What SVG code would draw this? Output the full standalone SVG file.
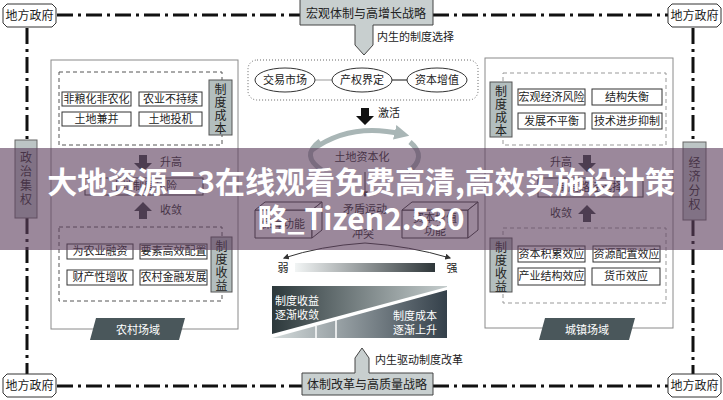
<svg xmlns="http://www.w3.org/2000/svg" width="723" height="400" viewBox="0 0 723 400">
<defs>
<style>
.t{font-family:"Noto Sans CJK SC","Noto Sans",sans-serif;font-size:11px;fill:#222;text-anchor:middle}
.s{font-size:12px}
.w{fill:#fff}
.box{fill:#fff;stroke:#333;stroke-width:1}
.lab{fill:#b3bebe;stroke:#555;stroke-width:1}
.dash{fill:none;stroke:#555;stroke-width:1;stroke-dasharray:4 3}
.dash2{fill:none;stroke:#999;stroke-width:1;stroke-dasharray:4 3}
.panel{fill:#fff;stroke:#8a8a8a;stroke-width:1}
.dd{fill:none;stroke:#111;stroke-width:3;stroke-dasharray:16 5 3 5}
.gov{fill:#fff;stroke:#333;stroke-width:1}
.cyc{fill:none;stroke:#a9b6b6;stroke-width:5}
.thin{fill:none;stroke:#333;stroke-width:1}
.dark{fill:#333b3e}
</style>
<linearGradient id="gbar" x1="0" x2="1" y1="0" y2="0"><stop offset="0" stop-color="#f2f5f5"/><stop offset="1" stop-color="#2e3639"/></linearGradient>
<linearGradient id="gup" x1="0" x2="1" y1="0" y2="0"><stop offset="0" stop-color="#2c383b"/><stop offset="1" stop-color="#c5cdcd"/></linearGradient>
<linearGradient id="gdn" x1="0" x2="1" y1="0" y2="0"><stop offset="0" stop-color="#d5dcdc"/><stop offset="1" stop-color="#34404a"/></linearGradient>
<marker id="ah" viewBox="0 0 10 10" refX="8" refY="5" markerWidth="6" markerHeight="6" orient="auto"><path d="M0,0 L10,5 L0,10 z" fill="#333"/></marker>
<marker id="ahg" viewBox="0 0 10 10" refX="5" refY="5" markerWidth="3" markerHeight="3" orient="auto"><path d="M0,0 L10,5 L0,10 z" fill="#a9b6b6"/></marker>
</defs>
<rect width="723" height="400" fill="#fff"/>

<g id="connectors">
<line class="dd" x1="57" y1="15" x2="300" y2="15"/>
<line class="dd" x1="433" y1="15" x2="668" y2="15"/>
<line class="dd" x1="57" y1="386" x2="302" y2="386"/>
<line class="dd" x1="433" y1="386" x2="668" y2="386"/>
<line class="dd" x1="27" y1="28" x2="27" y2="140"/>
<line class="dd" x1="27" y1="218" x2="27" y2="374"/>
<line class="dd" x1="693" y1="28" x2="693" y2="142"/>
<line class="dd" x1="693" y1="220" x2="693" y2="374"/>
<line x1="315" y1="80" x2="332" y2="80" stroke="#999" stroke-width="1"/>
<line x1="392" y1="80" x2="407" y2="80" stroke="#111" stroke-width="1"/>
<path class="cyc" d="M312,150 Q350,122 402,134" marker-end="url(#ahg)"/>
<path class="cyc" d="M320,141 Q300,156 322,170"/>
<path class="cyc" d="M410,142 Q428,157 408,172"/>
<line x1="365" y1="172" x2="365" y2="196" stroke="#333" stroke-width="1" marker-end="url(#ah)"/>
<path class="thin" d="M365,243 Q320,246 284,258" marker-end="url(#ah)"/>
<path class="thin" d="M365,243 Q410,246 450,258" marker-end="url(#ah)"/>
</g>

<g id="gov-tl"><path class="gov" d="M7,4 H52 L56,8 V23 L52,27 H7 L3,23 V8 Z"/><text class="t s" x="29.5" y="20">地方政府</text></g>
<g id="gov-tr"><path class="gov" d="M672,4 H717 L721,8 V23 L717,27 H672 L668,23 V8 Z"/><text class="t s" x="694.5" y="20">地方政府</text></g>
<g id="gov-bl"><path class="gov" d="M7,374 H52 L56,378 V393 L52,397 H7 L3,393 V378 Z"/><text class="t s" x="29.5" y="390">地方政府</text></g>
<g id="gov-br"><path class="gov" d="M672,374 H717 L721,378 V393 L717,397 H672 L668,393 V378 Z"/><text class="t s" x="694.5" y="390">地方政府</text></g>

<g id="top-strategy">
<path d="M300,-1 H433 V25 H373 V45 L364,55 L355,45 V25 H300 Z" fill="#c8cfcf" stroke="#444" stroke-width="1"/>
<text class="t s" x="366" y="18">宏观体制与高增长战略</text>
<text class="t" x="377" y="41" style="text-anchor:start">内生的制度选择</text>
</g>

<g id="bottom-strategy">
<path d="M302,395 V373 H355 V358 L362,348 L369,358 V373 H433 V395 Z" fill="#c8cfcf" stroke="#444" stroke-width="1"/>
<text class="t s" x="367" y="389">体制改革与高质量战略</text>
<text class="t" x="375" y="364" style="text-anchor:start">内生驱动制度改革</text>
</g>

<g id="politics"><rect x="15" y="140" width="22" height="78" fill="#bcc5c5" stroke="#666"/>
<text class="t s" x="26" y="162">政</text><text class="t s" x="26" y="176">治</text><text class="t s" x="26" y="190">集</text><text class="t s" x="26" y="204">权</text></g>
<g id="economy"><rect x="683" y="142" width="23" height="78" fill="#bcc5c5" stroke="#666"/>
<text class="t s" x="694.5" y="167">经</text><text class="t s" x="694.5" y="181">济</text><text class="t s" x="694.5" y="195">分</text><text class="t s" x="694.5" y="209">权</text></g>

<g id="rural">
<rect class="panel" x="51" y="60" width="187" height="269"/>
<rect class="dash" x="59" y="72" width="163" height="73"/>
<rect class="box" x="62" y="92" width="69" height="14"/><text class="t" x="96.5" y="103">非粮化非农化</text>
<rect class="box" x="139" y="92" width="63" height="14"/><text class="t" x="170.5" y="103">农业不持续</text>
<rect class="box" x="62" y="112" width="69" height="14"/><text class="t" x="96.5" y="123">土地兼并</text>
<rect class="box" x="139" y="112" width="63" height="14"/><text class="t" x="170.5" y="123">土地投机</text>
<rect class="lab" x="209" y="80" width="23" height="55"/>
<text class="t s" x="220.5" y="94">制</text><text class="t s" x="220.5" y="107">度</text><text class="t s" x="220.5" y="120">成</text><text class="t s" x="220.5" y="133">本</text>
<path class="dark" d="M139,155 H147 V163 H152 L143,172 L134,163 H139 Z"/>
<text class="t" x="160" y="166" style="text-anchor:start">升高</text>
<rect class="box" x="85" y="178" width="118" height="17"/><text class="t" x="144" y="190">土地制度风险</text>
<path class="dark" d="M143,202 L152,211 H147 V219 H139 V211 H134 Z"/>
<text class="t" x="160" y="214" style="text-anchor:start">收敛</text>
<rect class="dash" x="59" y="227" width="163" height="74"/>
<rect class="box" x="67" y="244" width="66" height="15"/><text class="t" x="100" y="255">为农业融资</text>
<rect class="box" x="140" y="244" width="67" height="15"/><text class="t" x="173.5" y="255">要素高效配置</text>
<rect class="box" x="67" y="270" width="66" height="15"/><text class="t" x="100" y="281">财产性增收</text>
<rect class="box" x="140" y="270" width="67" height="15"/><text class="t" x="173.5" y="281">农村金融发展</text>
<rect class="lab" x="211" y="237" width="21" height="55"/>
<text class="t s" x="221.5" y="251">制</text><text class="t s" x="221.5" y="264">度</text><text class="t s" x="221.5" y="277">收</text><text class="t s" x="221.5" y="290">益</text>
<path d="M96,318 H185 L179,340 H90 Z" fill="#4a575b"/>
<text class="t w" x="138" y="334">农村场域</text>
</g>

<g id="urban">
<rect class="panel" x="485" y="58" width="188" height="270"/>
<rect class="dash2" x="503" y="73" width="163" height="72"/>
<rect class="box" x="518" y="89" width="67" height="16"/><text class="t" x="551.5" y="101">宏观经济风险</text>
<rect class="box" x="592" y="89" width="70" height="16"/><text class="t" x="627" y="101">结构失衡</text>
<rect class="box" x="518" y="113" width="67" height="16"/><text class="t" x="551.5" y="125">发展不平衡</text>
<rect class="box" x="592" y="113" width="70" height="16"/><text class="t" x="627" y="125">技术进步抑制</text>
<rect class="lab" x="490" y="82" width="22" height="55"/>
<text class="t s" x="501" y="96">制</text><text class="t s" x="501" y="109">度</text><text class="t s" x="501" y="122">成</text><text class="t s" x="501" y="135">本</text>
<path class="dark" d="M583,155 H591 V163 H596 L587,172 L578,163 H583 Z"/>
<text class="t" x="550" y="166" style="text-anchor:start">升高</text>
<rect class="box" x="538" y="178" width="105" height="19"/><text class="t" x="590" y="191">制度路径选择</text>
<path class="dark" d="M587,205 L596,214 H591 V222 H583 V214 H578 Z"/>
<text class="t" x="550" y="217" style="text-anchor:start">收敛</text>
<rect class="dash2" x="503" y="228" width="163" height="75"/>
<rect class="box" x="518" y="246" width="67" height="16"/><text class="t" x="551.5" y="258">资本积累效应</text>
<rect class="box" x="593" y="246" width="67" height="16"/><text class="t" x="626.5" y="258">资源配置效应</text>
<rect class="box" x="518" y="268" width="67" height="17"/><text class="t" x="551.5" y="280">产业结构效应</text>
<rect class="box" x="592" y="268" width="68" height="17"/><text class="t" x="626" y="280">货币效应</text>
<rect class="lab" x="490" y="238" width="22" height="54"/>
<text class="t s" x="501" y="252">制</text><text class="t s" x="501" y="265">度</text><text class="t s" x="501" y="278">收</text><text class="t s" x="501" y="291">益</text>
<path d="M545,318 H635 L629,340 H539 Z" fill="#4a575b"/>
<text class="t w" x="587" y="334">城镇场域</text>
</g>

<g id="choice">
<rect x="248" y="60" width="230" height="40" rx="9" fill="none" stroke="#666" stroke-width="1" stroke-dasharray="1 2"/>
<ellipse cx="285" cy="80" rx="30" ry="12" class="box"/><text class="t" x="285" y="84">交易市场</text>
<ellipse cx="362" cy="80" rx="30" ry="12" class="box"/><text class="t" x="362" y="84">产权界定</text>
<ellipse cx="437" cy="80" rx="30" ry="12" class="box"/><text class="t" x="437" y="84">资本增值</text>
</g>

<g id="activate">
<path d="M361,108 H369 V116 H374 L365,125 L356,116 H361 Z" fill="#111"/>
<text class="t" x="378" y="117" style="text-anchor:start">激活</text>
</g>

<g id="capitalization"><text class="t" x="362" y="161">土地资本化</text></g>
<g id="contradiction"><text class="t" x="365" y="213">矛盾运动</text><text class="t" x="363" y="238">冲突</text></g>

<g id="box-left">
<path class="box" d="M255,210 H312 V238 H255 Z"/>
<path class="box" d="M255,210 L265,202 H322 L312,210 Z"/>
<path class="box" d="M312,210 L322,202 V230 L312,238 Z"/>
<text class="t" x="283" y="228">保障功能</text>
</g>
<g id="box-right">
<path class="box" d="M402,210 H468 V238 H402 Z"/>
<path class="box" d="M402,210 L412,202 H478 L468,210 Z"/>
<path class="box" d="M468,210 L478,202 V230 L468,238 Z"/>
<text class="t" x="435" y="222">资本增值</text><text class="t" x="435" y="235">功能</text>
</g>

<g id="scale">
<text class="t" x="283" y="272">弱</text>
<rect x="295" y="263" width="140" height="9" fill="url(#gbar)"/>
<text class="t" x="452" y="272">强</text>
</g>

<g id="tradeoff">
<polygon points="272,286 447,286 447,287 272,334" fill="url(#gup)"/>
<polygon points="272,338 447,290 447,338" fill="url(#gdn)"/>
<line x1="316" y1="326" x2="316" y2="338" stroke="#fff" stroke-width="1.5"/>
<line x1="336" y1="320" x2="336" y2="338" stroke="#fff" stroke-width="1.5"/>
<text class="t w" x="275" y="305" style="text-anchor:start">制度收益</text>
<text class="t w" x="275" y="319" style="text-anchor:start">逐渐收敛</text>
<text class="t w" x="393" y="320" style="text-anchor:start">制度成本</text>
<text class="t w" x="393" y="334" style="text-anchor:start">逐渐上升</text>
</g>

<g id="watermark">
<rect x="0" y="148" width="723" height="102" fill="#5e3f5e" opacity="0.62"/>
<text x="361" y="193" style="font-family:'Noto Sans CJK SC','Noto Sans',sans-serif;font-size:30px;font-weight:bold;fill:#fff;text-anchor:middle">大地资源二3在线观看免费高清,高效实施设计策</text>
<text x="361" y="230" style="font-family:'Noto Sans CJK SC','Noto Sans',sans-serif;font-size:30px;font-weight:bold;fill:#fff;text-anchor:middle">略_Tizen2.530</text>
</g>
</svg>
